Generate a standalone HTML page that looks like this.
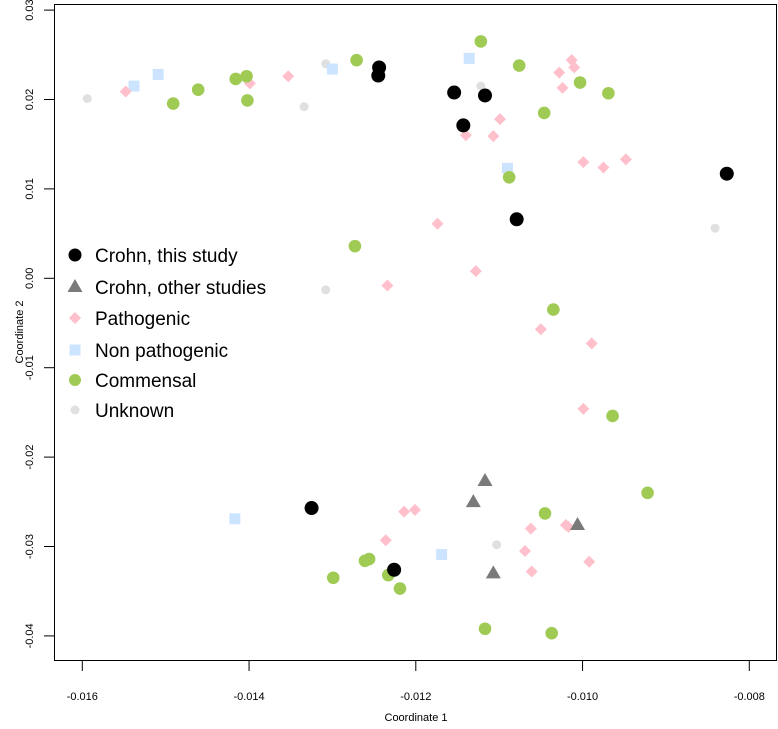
<!DOCTYPE html>
<html><head><meta charset="utf-8"><style>
body{margin:0;background:#fff;font-family:"Liberation Sans",sans-serif}
svg text{font-family:"Liberation Sans",sans-serif}
</style></head><body>
<svg id="chart" width="778" height="724" xmlns="http://www.w3.org/2000/svg">
<rect x="54.5" y="4.5" width="722" height="656" fill="none" stroke="#000" stroke-width="1"/>
<g id="xaxis"></g>
<g id="yaxis"></g>
<g id="points"></g>
<text x="416" y="721" font-size="11" text-anchor="middle">Coordinate 1</text>
<text transform="translate(23,332) rotate(-90)" font-size="11" text-anchor="middle">Coordinate 2</text>
<g id="legend"></g>
</svg>
<script>
const xTicks=[-0.016,-0.014,-0.012,-0.010,-0.008];
const xTickLabels=["-0.016","-0.014","-0.012","-0.010","-0.008"];
const yTicks=[0.03,0.02,0.01,0,-0.01,-0.02,-0.03,-0.04];
const yTickLabels=["0.03","0.02","0.01","0.00","-0.01","-0.02","-0.03","-0.04"];
const crohnX=[-0.01244,-0.01245,-0.01154,-0.01117,-0.01143,-0.01079,-0.00827,-0.01325,-0.01226];
const crohnY=[0.02358,0.02268,0.02078,0.02045,0.0171,0.0066,0.0117,-0.0257,-0.0326];
const otherX=[-0.01117,-0.01131,-0.01006,-0.01107];
const otherY=[-0.02268,-0.02503,-0.0276,-0.0330];
const pathX=[-0.01548,-0.01399,-0.01353,-0.01013,-0.0101,-0.01028,-0.01024,-0.01099,-0.0114,-0.01107,-0.00999,-0.00975,-0.00948,-0.01174,-0.01128,-0.01234,-0.0105,-0.00989,-0.00999,-0.01201,-0.01214,-0.01236,-0.01069,-0.01062,-0.01061,-0.0102,-0.00992,-0.01017];
const pathY=[0.0209,0.0218,0.0226,0.0244,0.0236,0.023,0.0213,0.0178,0.016,0.0159,0.013,0.0124,0.0133,0.0061,0.0008,-0.0008,-0.0057,-0.0073,-0.0146,-0.0259,-0.0261,-0.0293,-0.0305,-0.0280,-0.0328,-0.0276,-0.0317,-0.0278];
const nonpathX=[-0.01538,-0.01509,-0.013,-0.01136,-0.0109,-0.01417,-0.01169];
const nonpathY=[0.0215,0.0228,0.0234,0.0246,0.0123,-0.0269,-0.0309];
const commX=[-0.01491,-0.01461,-0.01416,-0.01403,-0.01402,-0.01271,-0.01122,-0.01076,-0.01003,-0.00969,-0.01046,-0.01088,-0.01273,-0.01035,-0.00964,-0.00922,-0.01045,-0.01261,-0.01256,-0.01233,-0.01219,-0.01299,-0.01117,-0.01037];
const commY=[0.01955,0.0211,0.0223,0.0226,0.0199,0.0244,0.0265,0.0238,0.0219,0.0207,0.0185,0.0113,0.0036,-0.0035,-0.0154,-0.024,-0.0263,-0.0316,-0.0314,-0.0332,-0.0347,-0.0335,-0.0392,-0.0397];
const unkX=[-0.01594,-0.01308,-0.01334,-0.01122,-0.00841,-0.01308,-0.01103];
const unkY=[0.0201,0.024,0.0192,0.0215,0.0056,-0.0013,-0.0298];

const NS="http://www.w3.org/2000/svg";
function sx(v){return 82.3+(v+0.016)/0.002*166.75;}
function sy(v){return 99.5-(v-0.02)/0.01*89.4;}
function mk(tag,attrs,parent){const e=document.createElementNS(NS,tag);for(const k in attrs)e.setAttribute(k,attrs[k]);parent.appendChild(e);return e;}
const xa=document.getElementById('xaxis'),ya=document.getElementById('yaxis'),pts=document.getElementById('points'),lg=document.getElementById('legend');
xTicks.forEach((t,i)=>{
 const l=mk('line',{x1:sx(t),x2:sx(t),y1:660,y2:671,stroke:'#000'},xa);
 
 
 const tx=mk('text',{x:sx(t),y:700,'font-size':11,'text-anchor':'middle'},xa);tx.textContent=xTickLabels[i];
 
 
});
yTicks.forEach((t,i)=>{
 const l=mk('line',{x1:44,x2:55,y1:sy(t),y2:sy(t),stroke:'#000'},ya);
 
 
 const tx=mk('text',{transform:`translate(33,${sy(t)}) rotate(-90)`,'font-size':11,'text-anchor':'middle'},ya);tx.textContent=yTickLabels[i];
 
 
});
function circle(x,y,r,fill,g){return mk('circle',{cx:x,cy:y,r:r,fill:fill},g);}
function square(x,y,fill,g){return mk('rect',{x:x-5.5,y:y-5.5,width:11,height:11,fill:fill},g);}
function diamond(x,y,fill,g){return mk('polygon',{points:`${x},${y-6} ${x+6},${y} ${x},${y+6} ${x-6},${y}`,fill:fill},g);}
function tri(x,y,fill,g){return mk('polygon',{points:`${x},${y-8} ${x+7.5},${y+5} ${x-7.5},${y+5}`,fill:fill},g);}
const series=[
 {xs:unkX,ys:unkY,draw:(x,y,g)=>circle(x,y,4.5,'#e0e0e0',g),name:'unknown-point'},
 {xs:nonpathX,ys:nonpathY,draw:(x,y,g)=>square(x,y,'#cce4ff',g),name:'non-pathogenic-point'},
 {xs:pathX,ys:pathY,draw:(x,y,g)=>diamond(x,y,'#ffc0cb',g),name:'pathogenic-point'},
 {xs:commX,ys:commY,draw:(x,y,g)=>circle(x,y,6.3,'#9fcb54',g),name:'commensal-point'},
 {xs:otherX,ys:otherY,draw:(x,y,g)=>tri(x,y,'#7a7a7a',g),name:'crohn-other-point'},
 {xs:crohnX,ys:crohnY,draw:(x,y,g)=>circle(x,y,7,'#000',g),name:'crohn-this-study-point'}
];
series.forEach(s=>{s.xs.forEach((v,i)=>{const e=s.draw(sx(v),sy(s.ys[i]),pts);
 
 });});
const legendItems=[
 {label:'Crohn, this study',draw:(y)=>circle(75,y,6.5,'#000',lg)},
 {label:'Crohn, other studies',draw:(y)=>tri(75,y,'#7a7a7a',lg)},
 {label:'Pathogenic',draw:(y)=>diamond(75,y,'#ffc0cb',lg)},
 {label:'Non pathogenic',draw:(y)=>square(75,y,'#cce4ff',lg)},
 {label:'Commensal',draw:(y)=>circle(75,y,6,'#9fcb54',lg)},
 {label:'Unknown',draw:(y)=>circle(75,y,4.5,'#e0e0e0',lg)}
];
const legendY=[255,287,318,350,380,410];
legendItems.forEach((it,i)=>{
 const m=it.draw(legendY[i]);
 
 
 const t=mk('text',{x:95,y:legendY[i]+7,'font-size':19},lg);t.textContent=it.label;
 
 
});
</script>
</body></html>
